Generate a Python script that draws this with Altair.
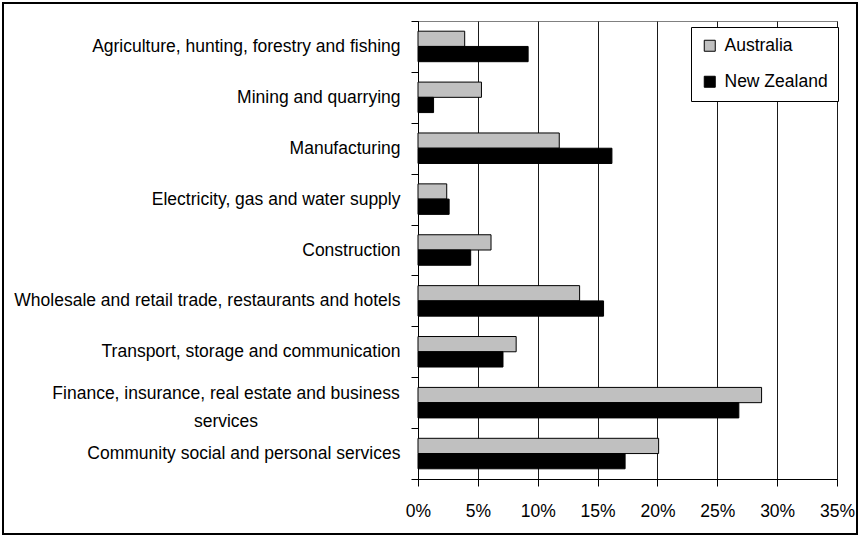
import altair as alt
import pandas as pd

categories = [
    "Agriculture, hunting, forestry and fishing",
    "Mining and quarrying",
    "Manufacturing",
    "Electricity, gas and water supply",
    "Construction",
    "Wholesale and retail trade, restaurants and hotels",
    "Transport, storage and communication",
    "Finance, insurance, real estate and business\nservices",
    "Community social and personal services",
]
series = ["Australia", "New Zealand"]
australia = [3.9, 5.3, 11.8, 2.4, 6.1, 13.5, 8.2, 28.7, 20.1]
new_zealand = [9.2, 1.3, 16.2, 2.6, 4.4, 15.5, 7.1, 26.8, 17.3]
x_ticks = [0, 5, 10, 15, 20, 25, 30, 35]
colors = ["#c0c0c0", "#000000"]

rows = []
for c, a, n in zip(categories, australia, new_zealand):
    rows.append({"sector": c, "country": "Australia", "share": a})
    rows.append({"sector": c, "country": "New Zealand", "share": n})
df = pd.DataFrame(rows)

FONT = "Liberation Sans"
FS = 17.5
BAR = 15.25
# single-line labels come from the axis; the wrapped one is drawn centred by a text layer
label_expr = (
    "!isValid(datum.value) || indexof(datum.value, '\\n') >= 0 ? '' : datum.value"
)

x_enc = alt.X(
    "share:Q",
    scale=alt.Scale(domain=[0, 35], nice=False, zero=True),
    axis=alt.Axis(
        values=x_ticks,
        title=None,
        labelExpr="datum.value + '%'",
        grid=True,
        gridColor="#1a1a1a",
        gridWidth=1,
        domainColor="black",
        tickColor="black",
        tickSize=7,
        labelPadding=16,
        labelFont=FONT,
        labelFontSize=FS,
        labelColor="black",
        labelFlush=False,
    ),
)
y_enc = alt.Y(
    "sector:N",
    sort=categories,
    scale=alt.Scale(domain=categories, paddingInner=0, paddingOuter=0),
    axis=alt.Axis(
        title=None,
        grid=False,
        tickBand="extent",
        tickSize=7,
        tickColor="black",
        domainColor="black",
        labelExpr=label_expr,
        labelAlign="right",
        labelPadding=11,
        labelFont=FONT,
        labelFontSize=FS,
        labelColor="black",
        labelLimit=0,
    ),
)
c_enc = alt.Color(
    "country:N",
    scale=alt.Scale(domain=series, range=colors),
    legend=alt.Legend(
        title=None,
        orient="none",
        legendX=273,
        legendY=6,
        fillColor="white",
        strokeColor="black",
        padding=10,
        symbolType="square",
        symbolSize=121,
        symbolStrokeColor="black",
        symbolStrokeWidth=1,
        symbolOpacity=1,
        labelFont=FONT,
        labelFontSize=FS,
        labelColor="black",
        rowPadding=17,
        labelOffset=6,
    ),
)

base = alt.Chart(df)
aus = base.transform_filter(alt.datum.country == series[0]).mark_bar(
    height=BAR, yOffset=-BAR / 2, stroke="black", strokeWidth=1
).encode(x=x_enc, y=y_enc, color=c_enc)
nz = base.transform_filter(alt.datum.country == series[1]).mark_bar(
    height=BAR, yOffset=BAR / 2, stroke="black", strokeWidth=1
).encode(x=x_enc, y=y_enc, color=c_enc)

wrapped = base.transform_filter(
    "indexof(datum.sector, '\\n') >= 0 && datum.country == '" + series[0] + "'"
).mark_text(
    align="center",
    baseline="bottom",
    lineBreak="\n",
    lineHeight=28,
    dx=-174,
    font=FONT,
    fontSize=FS,
    color="black",
    clip=False,
).encode(
    y=alt.Y("sector:N", sort=categories),
    x=alt.value(-18),
    text="sector:N",
)

border = alt.Chart(alt.Data(values=[{"k": 1}])).mark_rect(
    filled=False, stroke="black", strokeWidth=2, clip=False
).encode(
    x=alt.value(-415), x2=alt.value(439), y=alt.value(-18), y2=alt.value(513)
)

chart = alt.layer(aus, nz, wrapped, border).properties(
    width=419,
    height=458,
    autosize=alt.AutoSizeParams(type="none"),
    padding={"left": 418, "top": 21, "right": 22, "bottom": 57},
    background="white",
).configure_view(stroke="#808080", strokeWidth=1)

chart.save("out.html", embed_options={"renderer": "svg", "actions": False})
